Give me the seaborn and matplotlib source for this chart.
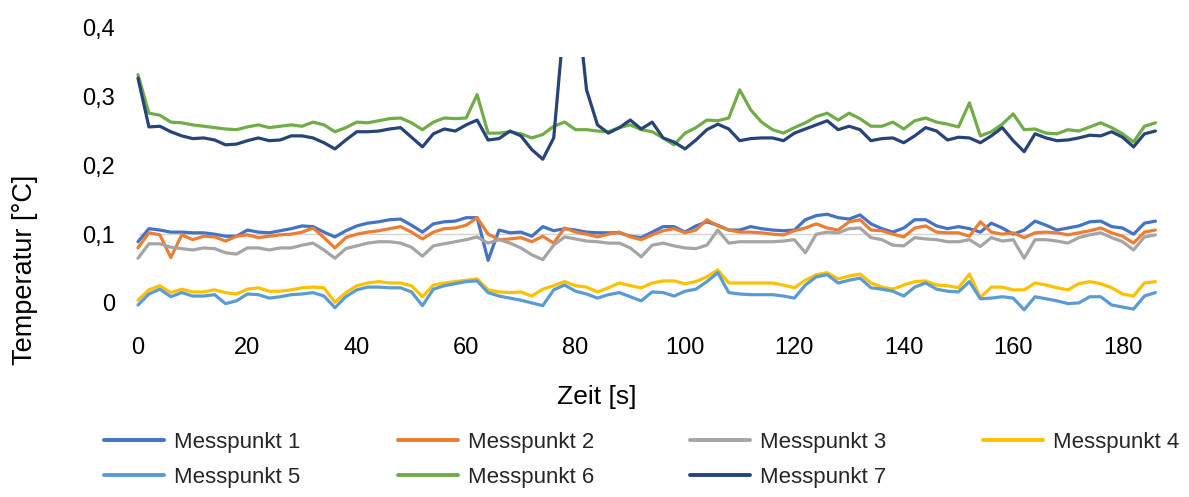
import numpy as np
import pandas as pd
import matplotlib
matplotlib.use("Agg")
import matplotlib.pyplot as plt
import matplotlib.patches as mpatches
import seaborn as sns

# Zeitachse in Sekunden (Abtastung alle 2 s)
zeit = np.arange(0, 188, 2)

messpunkt_1 = [0.089, 0.108, 0.106, 0.103, 0.103, 0.102, 0.102, 0.100, 0.097, 0.097,
               0.106, 0.103, 0.102, 0.105, 0.108, 0.112, 0.111, 0.103, 0.096, 0.105,
               0.112, 0.116, 0.118, 0.121, 0.122, 0.113, 0.103, 0.115, 0.118, 0.119,
               0.124, 0.124, 0.062, 0.106, 0.102, 0.103, 0.097, 0.111, 0.105, 0.108,
               0.106, 0.103, 0.102, 0.102, 0.102, 0.097, 0.095, 0.103, 0.111, 0.111,
               0.103, 0.112, 0.118, 0.113, 0.106, 0.106, 0.111, 0.108, 0.106, 0.105,
               0.106, 0.121, 0.127, 0.129, 0.124, 0.122, 0.128, 0.115, 0.108, 0.103,
               0.109, 0.121, 0.121, 0.112, 0.108, 0.111, 0.108, 0.103, 0.116, 0.109,
               0.100, 0.106, 0.119, 0.113, 0.106, 0.109, 0.112, 0.118, 0.119, 0.111,
               0.109, 0.100, 0.116, 0.119]

messpunkt_2 = [0.080, 0.102, 0.099, 0.066, 0.099, 0.092, 0.097, 0.096, 0.090, 0.097,
               0.099, 0.095, 0.097, 0.099, 0.100, 0.103, 0.109, 0.095, 0.080, 0.095,
               0.100, 0.103, 0.105, 0.108, 0.111, 0.103, 0.093, 0.103, 0.108, 0.109,
               0.113, 0.124, 0.100, 0.092, 0.093, 0.095, 0.089, 0.097, 0.087, 0.109,
               0.103, 0.100, 0.096, 0.100, 0.103, 0.096, 0.092, 0.099, 0.105, 0.108,
               0.102, 0.106, 0.121, 0.112, 0.106, 0.103, 0.103, 0.102, 0.100, 0.099,
               0.105, 0.109, 0.115, 0.109, 0.106, 0.118, 0.121, 0.106, 0.105, 0.100,
               0.096, 0.109, 0.112, 0.103, 0.102, 0.102, 0.097, 0.118, 0.103, 0.100,
               0.102, 0.095, 0.102, 0.103, 0.102, 0.099, 0.102, 0.105, 0.109, 0.102,
               0.097, 0.087, 0.103, 0.106]

messpunkt_3 = [0.065, 0.086, 0.086, 0.081, 0.079, 0.077, 0.080, 0.079, 0.073, 0.071,
               0.080, 0.080, 0.077, 0.080, 0.080, 0.084, 0.087, 0.077, 0.065, 0.079,
               0.083, 0.087, 0.089, 0.089, 0.087, 0.081, 0.068, 0.083, 0.086, 0.089,
               0.092, 0.096, 0.087, 0.092, 0.087, 0.080, 0.070, 0.063, 0.084, 0.096,
               0.093, 0.090, 0.089, 0.087, 0.087, 0.080, 0.067, 0.084, 0.087, 0.083,
               0.080, 0.079, 0.084, 0.106, 0.087, 0.089, 0.089, 0.089, 0.089, 0.090,
               0.092, 0.073, 0.100, 0.103, 0.102, 0.108, 0.109, 0.095, 0.092, 0.084,
               0.083, 0.095, 0.093, 0.092, 0.089, 0.089, 0.092, 0.082, 0.095, 0.090,
               0.092, 0.065, 0.092, 0.092, 0.090, 0.087, 0.095, 0.099, 0.102, 0.095,
               0.089, 0.077, 0.096, 0.099]

messpunkt_4 = [0.004, 0.019, 0.025, 0.015, 0.020, 0.016, 0.016, 0.019, 0.015, 0.013,
               0.020, 0.022, 0.017, 0.017, 0.019, 0.022, 0.023, 0.022, 0.001, 0.015,
               0.025, 0.029, 0.031, 0.029, 0.029, 0.025, 0.009, 0.026, 0.029, 0.031,
               0.033, 0.035, 0.019, 0.016, 0.015, 0.016, 0.010, 0.020, 0.025, 0.031,
               0.025, 0.023, 0.016, 0.022, 0.029, 0.025, 0.022, 0.029, 0.032, 0.032,
               0.028, 0.031, 0.038, 0.048, 0.029, 0.029, 0.029, 0.029, 0.029, 0.026,
               0.022, 0.033, 0.041, 0.044, 0.035, 0.039, 0.042, 0.029, 0.023, 0.020,
               0.026, 0.031, 0.032, 0.026, 0.025, 0.022, 0.042, 0.008, 0.023, 0.023,
               0.019, 0.019, 0.029, 0.026, 0.022, 0.019, 0.028, 0.031, 0.028, 0.022,
               0.013, 0.010, 0.029, 0.031]

messpunkt_5 = [-0.003, 0.013, 0.020, 0.009, 0.015, 0.010, 0.010, 0.012, -0.001, 0.003,
               0.013, 0.012, 0.007, 0.009, 0.012, 0.013, 0.015, 0.010, -0.007, 0.009,
               0.019, 0.023, 0.023, 0.022, 0.022, 0.016, -0.004, 0.020, 0.025, 0.028,
               0.031, 0.032, 0.015, 0.010, 0.007, 0.004, 0.000, -0.004, 0.019, 0.026,
               0.017, 0.013, 0.007, 0.012, 0.015, 0.009, 0.003, 0.016, 0.015, 0.010,
               0.017, 0.020, 0.031, 0.044, 0.015, 0.013, 0.012, 0.012, 0.012, 0.010,
               0.007, 0.026, 0.038, 0.041, 0.029, 0.033, 0.036, 0.022, 0.020, 0.017,
               0.010, 0.023, 0.029, 0.020, 0.017, 0.016, 0.031, 0.006, 0.007, 0.009,
               0.007, -0.010, 0.009, 0.006, 0.003, -0.001, 0.000, 0.009, 0.009, -0.003,
               -0.006, -0.009, 0.010, 0.015]

messpunkt_6 = [0.332, 0.276, 0.273, 0.263, 0.262, 0.259, 0.257, 0.255, 0.253, 0.252,
               0.256, 0.259, 0.255, 0.257, 0.259, 0.257, 0.263, 0.259, 0.249, 0.255,
               0.263, 0.262, 0.265, 0.268, 0.269, 0.262, 0.252, 0.263, 0.269, 0.268,
               0.269, 0.303, 0.247, 0.247, 0.249, 0.246, 0.240, 0.245, 0.257, 0.263,
               0.252, 0.252, 0.250, 0.249, 0.255, 0.259, 0.252, 0.249, 0.240, 0.230,
               0.247, 0.255, 0.266, 0.265, 0.269, 0.310, 0.281, 0.263, 0.252, 0.247,
               0.255, 0.262, 0.271, 0.276, 0.266, 0.276, 0.268, 0.257, 0.257, 0.263,
               0.253, 0.265, 0.269, 0.263, 0.260, 0.256, 0.291, 0.243, 0.249, 0.260,
               0.275, 0.252, 0.253, 0.247, 0.246, 0.252, 0.250, 0.256, 0.262, 0.255,
               0.246, 0.234, 0.257, 0.262]

messpunkt_7 = [0.327, 0.256, 0.257, 0.249, 0.243, 0.239, 0.240, 0.237, 0.230, 0.231,
               0.236, 0.240, 0.236, 0.237, 0.243, 0.243, 0.240, 0.233, 0.224, 0.237,
               0.249, 0.249, 0.250, 0.253, 0.255, 0.241, 0.227, 0.246, 0.253, 0.250,
               0.259, 0.266, 0.237, 0.239, 0.250, 0.243, 0.223, 0.209, 0.240, 0.420,
               0.460, 0.310, 0.259, 0.247, 0.255, 0.266, 0.253, 0.263, 0.240, 0.234,
               0.224, 0.237, 0.252, 0.260, 0.253, 0.236, 0.239, 0.240, 0.240, 0.236,
               0.247, 0.253, 0.259, 0.265, 0.252, 0.257, 0.252, 0.236, 0.239, 0.240,
               0.233, 0.243, 0.255, 0.250, 0.237, 0.241, 0.240, 0.233, 0.243, 0.255,
               0.236, 0.220, 0.246, 0.240, 0.236, 0.237, 0.240, 0.244, 0.243, 0.249,
               0.241, 0.227, 0.246, 0.250]

namen = ["Messpunkt 1", "Messpunkt 2", "Messpunkt 3", "Messpunkt 4",
         "Messpunkt 5", "Messpunkt 6", "Messpunkt 7"]
werte = [messpunkt_1, messpunkt_2, messpunkt_3, messpunkt_4,
         messpunkt_5, messpunkt_6, messpunkt_7]
farben = ["#4472C4", "#ED7D31", "#A5A5A5", "#FFC000",
          "#5B9BD5", "#70AD47", "#264478"]

x_ticks = [0, 20, 40, 60, 80, 100, 120, 140, 160, 180]
y_ticks = [0, 0.1, 0.2, 0.3, 0.4]
y_ticklabels = ["0", "0,1", "0,2", "0,3", "0,4"]

df = pd.DataFrame({
    "Zeit": np.tile(zeit, len(namen)),
    "Temperatur": np.concatenate([np.asarray(v, dtype=float) for v in werte]),
    "Messpunkt": np.repeat(namen, len(zeit)),
})

sns.set_theme(style="white")
plt.rcParams["font.family"] = ["Liberation Sans", "DejaVu Sans"]

fig = plt.figure(figsize=(11.89, 4.97), dpi=100)
ax = fig.add_axes([0.111, 0.349, 0.8688, 0.5948])

# einzelne Gitterlinie bei 0,1
ax.hlines(0.1, zeit[0], zeit[-1], color="#d4d4d4", linewidth=1.0, zorder=0)

sns.lineplot(data=df, x="Zeit", y="Temperatur", hue="Messpunkt",
             palette=dict(zip(namen, farben)), hue_order=namen,
             estimator=None, sort=False, linewidth=2.3, ax=ax)

ax.set_xlim(-1.1, 187.75)
ax.set_ylim(-0.03, 0.4)

# Kurven oberhalb des Diagrammbereichs abschneiden
clip = mpatches.Rectangle((-5, -0.1), 200, 0.458, transform=ax.transData,
                          facecolor="none", edgecolor="none")
for line in ax.lines:
    line.set_clip_path(clip)

for s in ax.spines.values():
    s.set_visible(False)

ax.set_xticks(x_ticks)
ax.set_xticklabels([str(v) for v in x_ticks])
ax.set_yticks(y_ticks)
ax.set_yticklabels(y_ticklabels)
ax.tick_params(axis="both", length=0, labelsize=17, colors="black")
ax.tick_params(axis="x", pad=10)
ax.tick_params(axis="y", pad=12)

ax.set_xlabel("Zeit [s]", fontsize=19, color="black")
ax.set_ylabel("Temperatur [°C]", fontsize=19.5, color="black")
ax.xaxis.set_label_coords(0.450, -0.208)
ax.yaxis.set_label_coords(-0.091, 0.181)

handles, labels = ax.get_legend_handles_labels()
ax.get_legend().remove()
reihenfolge = [0, 4, 1, 5, 2, 6, 3]
leg = fig.legend([handles[i] for i in reihenfolge], [labels[i] for i in reihenfolge],
                 ncol=4, loc="center", bbox_to_anchor=(0.540, 0.0744),
                 frameon=False, fontsize=16, handlelength=2.7,
                 handletextpad=0.45, columnspacing=4.35, labelspacing=0.62)
for h in leg.legend_handles:
    h.set_linewidth(2.8)

fig.savefig("out.png", dpi=100, facecolor="white")
